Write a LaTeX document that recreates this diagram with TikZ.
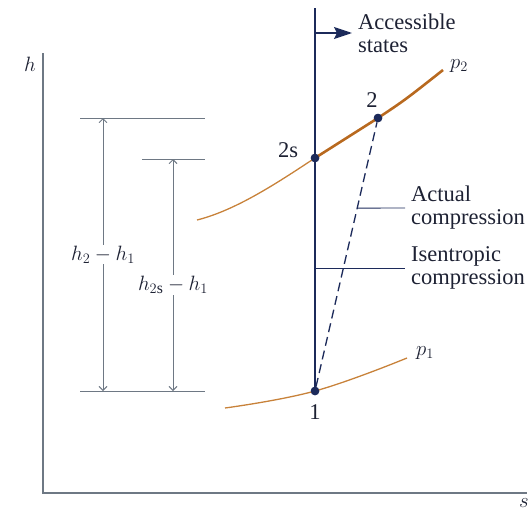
\documentclass[tikz,border=0pt]{standalone}
\usepackage{fontspec}
\setmainfont{Liberation Serif}
\usetikzlibrary{positioning,arrows.meta,calc}

\definecolor{navy}{HTML}{1C2A5A}
\definecolor{inkdark}{HTML}{1D2133}
\definecolor{isobar}{HTML}{C8823A}
\definecolor{isobardark}{HTML}{B8691F}
\definecolor{dimgray}{HTML}{6E7884}

\begin{document}
\begin{tikzpicture}[
  x=1pt, y=-1pt,
  font=\fontsize{22.5}{23}\selectfont,
  axis/.style={draw=dimgray, line width=1.6pt},
  dimline/.style={draw=dimgray, line width=0.9pt},
  dimarr/.style={dimline, {Straight Barb[length=4pt,width=8pt]}-{Straight Barb[length=4pt,width=8pt]}},
  state/.style={circle, fill=navy, inner sep=0pt, minimum size=8.5pt},
  note/.style={align=left, inner ysep=2pt, inner xsep=6pt, anchor=west, text=inkdark},
  lbl/.style={inner sep=1pt, text=inkdark},
  leader/.style={draw=navy, line width=0.9pt},
  curve/.style={draw=isobar, line width=1.3pt},
  process/.style={draw=navy, line width=1.6pt}]

\useasboundingbox (0,0) rectangle (532,514);

% axes
\coordinate (htop) at (43,53);
\coordinate (origin) at (43,493);
\coordinate (send) at (527,493);
\draw[axis] (htop) -- (origin) -- (send);
\node[lbl] (hlab) at (30,64) {$h$};
\node[lbl] (slab) at (524,503) {$s$};

% states
\node[state] (s2s) at (315,158) {};
\node[state] (s2) at (378,118) {};
\node[state] (s1) at (315,391) {};

% isobars
\coordinate (p2a) at (197,220);
\coordinate (p2b) at (443,70);
\coordinate (p1a) at (225,408);
\coordinate (p1b) at (407,358);
\draw[curve] (p2a) .. controls (237,210) and (280,181) .. (s2s.center);
\draw[draw=isobardark, line width=2.6pt] (s2s.center) -- (s2.center) .. controls (405,100) .. (p2b);
\draw[curve] plot[smooth, tension=0.7] coordinates {(225,408) (315,391) (407,358)};
\node[lbl] (p2lab) at (459,66) {$p_2$};
\node[lbl] (p1lab) at (425,353) {$p_1$};

% isentropic line and accessible states
\coordinate (vtop) at (315,8);
\coordinate (arrbase) at (315,33);
\draw[process] (vtop) -- (s1);
\node[note] (acc) at (352,33) {Accessible\\states};
\draw[process, -{Stealth[length=18pt,width=12pt,inset=3pt]}] (arrbase) -- (acc.west);

% actual compression
\draw[navy, line width=1.3pt, dash pattern=on 9pt off 5pt] (s1) -- (s2);
\node[state] at (s1) {};
\node[state] at (s2) {};
\node[state] at (s2s) {};

% state labels
\node[lbl] (l1) at (315,412) {1};
\node[lbl] (l2s) at (288,150) {2s};
\node[lbl] (l2) at (372,100) {2};

% leaders
\coordinate (act) at ($(s1)!0.670!(s2)$);
\node[note] (actlab) at (405,208) {Actual\\compression};
\draw[leader] (act) -- (actlab.west);
\coordinate (isen) at (315,268);
\node[note] (isenlab) at (405,268) {Isentropic\\compression};
\draw[leader] (isen) -- (isenlab.west);

% enthalpy differences
\coordinate (t2a) at (80,118);
\coordinate (t2b) at (205,118);
\coordinate (t2sa) at (142,159);
\coordinate (t2sb) at (205,159);
\coordinate (t1a) at (80,391);
\coordinate (t1b) at (205,391);
\draw[dimline] (t2a) -- (t2b);
\draw[dimline] (t2sa) -- (t2sb);
\draw[dimline] (t1a) -- (t1b);
\coordinate (da) at (103,118);
\coordinate (db) at (103,391);
\coordinate (dsa) at (173,159);
\coordinate (dsb) at (173,391);
\draw[dimarr] (da) -- node[lbl, fill=white, pos=0.5] {$h_2 - h_1$} (db);
\draw[dimarr] (dsa) -- node[lbl, fill=white, pos=0.543] {$h_{2\mathrm{s}} - h_1$} (dsb);
\end{tikzpicture}
\end{document}
